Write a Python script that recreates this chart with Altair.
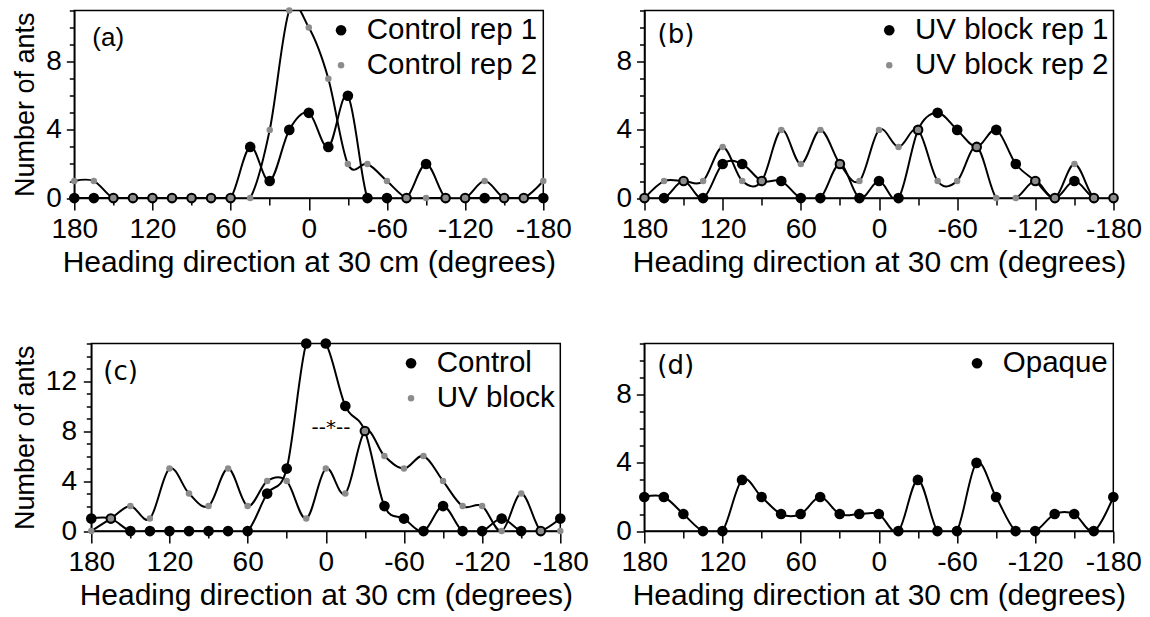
import altair as alt
import pandas as pd

# heading direction bins (degrees)
angle = [180, 165, 150, 135, 120, 105, 90, 75, 60, 45, 30, 15, 0,
         -15, -30, -45, -60, -75, -90, -105, -120, -135, -150, -165, -180]

a_rep1 = [0, 0, 0, 0, 0, 0, 0, 0, 0, 3, 1, 4, 5, 3, 6, 0, 0, 0, 2, 0, 0, 0, 0, 0, 0]
a_rep2 = [1, 1, 0, 0, 0, 0, 0, 0, 0, 0, 4, 11, 10, 7, 2, 2, 1, 0, 0, 0, 0, 1, 0, 0, 1]
b_rep1 = [0, 0, 1, 0, 2, 2, 1, 1, 0, 0, 2, 0, 1, 0, 4, 5, 4, 3, 4, 2, 1, 0, 1, 0, 0]
b_rep2 = [0, 1, 1, 1, 3, 1, 1, 4, 2, 4, 2, 1, 4, 3, 4, 1, 1, 3, 0, 0, 1, 0, 2, 0, 0]
c_control = [1, 1, 0, 0, 0, 0, 0, 0, 0, 3, 5, 15, 15, 10, 8, 2, 1, 0, 2, 0, 0, 1, 0, 0, 1]
c_uv = [0, 1, 2, 1, 5, 3, 2, 5, 2, 4, 4, 1, 5, 3, 8, 6, 5, 6, 4, 2, 2, 0, 3, 0, 0]
d_opaque = [2, 2, 1, 0, 0, 3, 2, 1, 1, 2, 1, 1, 1, 0, 3, 0, 0, 4, 2, 0, 0, 1, 1, 0, 2]

x_ticks = [180, 150, 120, 90, 60, 30, 0, -30, -60, -90, -120, -150, -180]
x_title = "Heading direction at 30 cm (degrees)"
y_title = "Number of ants"

# significance annotation in panel (c)
annot_angle = [-4]
annot_count = [7.8]
annot_text = ["--*--"]

FONT = "Liberation Sans"
LABEL_FONT = "DejaVu Sans"
BLACK = "#000000"
GRAY = "#8c8c8c"
W, H = 469, 187.6


def panel(series, label, ymax, show_ytitle, label_xy, label_font, ylab_pad=5, annot=False):
    rows = []
    for name, vals, _c, _s in series:
        for a, v in zip(angle, vals):
            rows.append({"angle": a, "count": v, "series": name})
    df = pd.DataFrame(rows)
    names = [s[0] for s in series]
    colors = [s[2] for s in series]
    sizes = [s[3] for s in series]
    if len(sizes) == 1:
        sizes = sizes * 2

    xax = alt.Axis(
        values=x_ticks,
        labelExpr="datum.value % 60 === 0 ? '' + datum.value : ''",
        tickSize={"condition": {"test": "datum.value % 60 === 0", "value": 12}, "value": 7},
        title=x_title,
        labelFlush=False,
        labelOverlap=False,
        labelPadding=5.7,
        titlePadding=4,
    )
    yargs = dict(
        values=list(range(0, ymax + 1)),
        labelExpr="datum.value % 4 === 0 ? datum.label : ''",
        tickSize={"condition": {"test": "datum.value % 4 === 0", "value": 8}, "value": 5},
        labelPadding=ylab_pad,
        labelFlush=False,
        titlePadding=6,
    )
    if show_ytitle:
        yargs["title"] = y_title
    else:
        yargs["title"] = None
    yax = alt.Axis(**yargs)

    x = alt.X("angle:Q", scale=alt.Scale(domain=[180, -180], nice=False, zero=False), axis=xax)
    y = alt.Y("count:Q", scale=alt.Scale(domain=[0, ymax], nice=False, zero=True), axis=yax)

    lines = alt.Chart(df).mark_line(
        interpolate="cardinal", color=BLACK, strokeWidth=2, clip=True
    ).encode(x=x, y=y, detail="series:N")

    pts = alt.Chart(df).mark_circle(opacity=1).encode(
        x=x, y=y,
        color=alt.Color(
            "series:N",
            scale=alt.Scale(domain=names, range=colors),
            sort=names,
            legend=alt.Legend(
                title=None, orient="top-right", offset=5, padding=0,
                labelFont=FONT, labelFontSize=29.5, labelColor=BLACK,
                symbolType="circle", symbolSize=60, symbolStrokeWidth=0,
                rowPadding=4, labelOffset=11, labelLimit=400,
            ),
        ),
        size=alt.Size("series:N", scale=alt.Scale(domain=names, range=sizes), legend=None),
    )

    lab = alt.Chart(pd.DataFrame({"t": [label]})).mark_text(
        align="left", baseline="alphabetic", font=label_font, fontSize=26, color=BLACK
    ).encode(text="t:N", x=alt.value(label_xy[0]), y=alt.value(label_xy[1]))

    layers = [lines, pts, lab]
    if annot:
        adf = pd.DataFrame({"angle": annot_angle, "count": annot_count, "text": annot_text})
        layers.append(
            alt.Chart(adf).mark_text(
                font=LABEL_FONT, fontSize=20, color=BLACK, baseline="alphabetic", align="center"
            ).encode(x=x, y=y, text="text:N")
        )
    return alt.layer(*layers).properties(width=W, height=H)


def spacer():
    # invisible 1x1 cell that anchors each row at the left edge
    return alt.Chart(pd.DataFrame({"s": [0]})).mark_point(
        opacity=0, size=1, strokeWidth=0
    ).encode(
        x=alt.value(0), y=alt.value(0)
    ).properties(width=1, height=1, view=alt.ViewBackground(stroke="transparent"))


pa = panel([("Control rep 1", a_rep1, BLACK, 113), ("Control rep 2", a_rep2, GRAY, 42)],
           "(a)", 11, True, (18, 35), FONT)
pb = panel([("UV block rep 1", b_rep1, BLACK, 113), ("UV block rep 2", b_rep2, GRAY, 42)],
           "(b)", 11, False, (13, 32), LABEL_FONT)
pc = panel([("Control", c_control, BLACK, 113), ("UV block", c_uv, GRAY, 42)],
           "(c)", 15, True, (12, 37), LABEL_FONT, ylab_pad=6.8, annot=True)
pd_ = panel([("Opaque", d_opaque, BLACK, 113)],
            "(d)", 11, False, (13, 31), LABEL_FONT)


def indep(c):
    return c.resolve_scale(color="independent", size="independent").resolve_legend(color="independent")


top = indep(alt.hconcat(spacer(), indep(alt.hconcat(pa, pb, spacing=42.2)), spacing=0))
bottom = indep(alt.hconcat(spacer(), indep(alt.hconcat(pc, pd_, spacing=25)), spacing=0))

chart = indep(alt.vconcat(top, bottom, spacing=57)).properties(
    padding={"left": 6.3, "top": 6.5, "right": 4, "bottom": 4},
    background="white",
).configure_view(
    stroke=BLACK, strokeWidth=1.5
).configure_axis(
    grid=False,
    domainColor=BLACK, domainWidth=1.5,
    tickColor=BLACK, tickWidth=1.5,
    labelFont=FONT, labelFontSize=28, labelColor=BLACK,
    titleFont=FONT, titleFontSize=30, titleFontWeight="normal", titleColor=BLACK,
).configure_axisY(
    titleFontSize=27,
)

chart.save("out.html", embed_options={"renderer": "svg", "actions": False})
